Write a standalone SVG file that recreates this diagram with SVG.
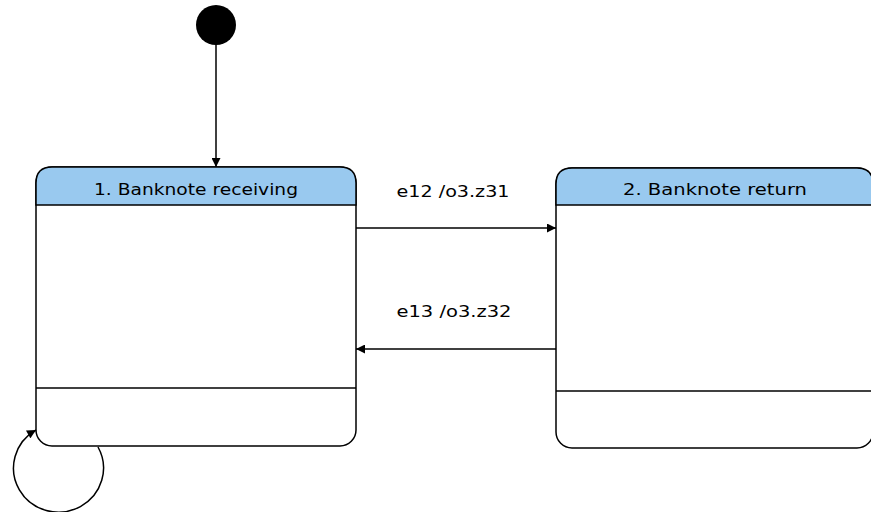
<svg xmlns="http://www.w3.org/2000/svg" width="871" height="512" viewBox="0 0 871 512">
<style>
.st{fill:#fff;stroke:#000;stroke-width:1.5}
.hd{fill:#99c9ef;stroke:#000;stroke-width:1.5}
.ln{stroke:#000;stroke-width:1.5;fill:none}
.t{font-family:"DejaVu Sans",sans-serif;font-size:16px;fill:#000;text-anchor:middle}
</style>
<defs>
<marker id="ar" viewBox="0 0 10 10" refX="10" refY="5" markerWidth="10" markerHeight="9" markerUnits="userSpaceOnUse" orient="auto">
<path d="M0,0 L10,5 L0,10 z" fill="#000"/>
</marker>
</defs>
<g id="initial">
<circle cx="216" cy="25" r="20" fill="#000"/>
</g>
<g id="state1">
<rect class="st" x="36" y="167" width="320" height="279" rx="16" ry="16"/>
<path class="hd" d="M36,205 L36,183 Q36,167 52,167 L340,167 Q356,167 356,183 L356,205 Z"/>
<line class="ln" x1="36" y1="388" x2="356" y2="388"/>
<text class="t" x="196" y="195" textLength="204" lengthAdjust="spacingAndGlyphs">1. Banknote receiving</text>
</g>
<g id="state2">
<rect class="st" x="556" y="168" width="317" height="280" rx="16" ry="16"/>
<path class="hd" d="M556,205 L556,184 Q556,168 572,168 L857,168 Q873,168 873,184 L873,205 Z"/>
<line class="ln" x1="556" y1="391" x2="873" y2="391"/>
<text class="t" x="715" y="195" textLength="184" lengthAdjust="spacingAndGlyphs">2. Banknote return</text>
</g>
<g id="connectors">
<line class="ln" x1="216" y1="44" x2="216" y2="167" marker-end="url(#ar)"/>
<line class="ln" x1="356" y1="228" x2="556" y2="228" marker-end="url(#ar)"/>
<text class="t" x="453" y="197" textLength="113" lengthAdjust="spacingAndGlyphs">e12 /o3.z31</text>
<line class="ln" x1="556" y1="349" x2="356" y2="349" marker-end="url(#ar)"/>
<text class="t" x="454" y="317" textLength="115" lengthAdjust="spacingAndGlyphs">e13 /o3.z32</text>
<path class="ln" d="M98,447 A45,44 0 1 1 36,430" marker-end="url(#ar)"/>
</g>
</svg>
